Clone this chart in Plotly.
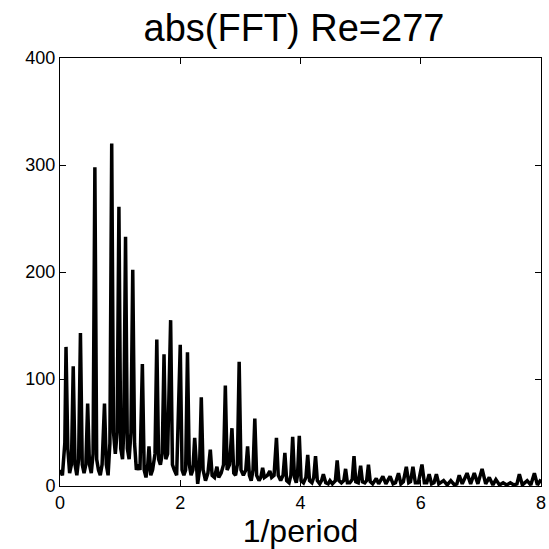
import plotly.graph_objects as go

freq = [0.00, 0.04, 0.08, 0.10, 0.13, 0.16, 0.19, 0.22, 0.25, 0.28, 0.31, 0.34, 0.37, 0.40, 0.43, 0.46, 0.49,
        0.52, 0.55, 0.58, 0.61, 0.64, 0.67, 0.70, 0.74, 0.77, 0.80, 0.83, 0.86, 0.89, 0.92, 0.95, 0.98,
        1.01, 1.04, 1.06, 1.09, 1.12, 1.15, 1.18, 1.21, 1.24, 1.27, 1.30, 1.33, 1.37, 1.40, 1.43, 1.46,
        1.48, 1.51, 1.54, 1.58, 1.61, 1.64, 1.67, 1.70, 1.73, 1.76, 1.79, 1.84, 1.87, 1.90, 1.94, 2.00,
        2.03, 2.06, 2.09, 2.12, 2.15, 2.18, 2.21, 2.24, 2.27, 2.29, 2.32, 2.35, 2.38, 2.42, 2.46, 2.50,
        2.53, 2.57, 2.61, 2.64, 2.68, 2.72, 2.75, 2.78, 2.82, 2.86, 2.89, 2.92, 2.95, 2.98, 3.01, 3.05,
        3.09, 3.12, 3.15, 3.18, 3.21, 3.24, 3.27, 3.31, 3.34, 3.37, 3.40, 3.45, 3.49, 3.52, 3.56, 3.60,
        3.63, 3.67, 3.71, 3.74, 3.77, 3.81, 3.84, 3.87, 3.90, 3.93, 3.95, 3.98, 4.01, 4.05, 4.09, 4.12,
        4.15, 4.19, 4.22, 4.25, 4.28, 4.32, 4.35, 4.38, 4.42, 4.46, 4.49, 4.53, 4.58, 4.61, 4.64, 4.68,
        4.72, 4.75, 4.78, 4.82, 4.86, 4.89, 4.92, 4.96, 5.00, 5.03, 5.07, 5.10, 5.13, 5.16, 5.20, 5.26,
        5.30, 5.37, 5.42, 5.49, 5.54, 5.58, 5.63, 5.67, 5.71, 5.76, 5.80, 5.83, 5.87, 5.91, 5.96, 6.02,
        6.06, 6.10, 6.14, 6.18, 6.22, 6.26, 6.30, 6.38, 6.44, 6.50, 6.56, 6.60, 6.64, 6.69, 6.77, 6.83,
        6.89, 6.95, 7.02, 7.08, 7.14, 7.20, 7.25, 7.31, 7.37, 7.43, 7.49, 7.55, 7.60, 7.64, 7.69, 7.77,
        7.83, 7.89, 7.94, 8.00]

amplitude = [15, 10, 40, 130, 35, 12, 20, 112, 20, 10, 25, 143, 20, 12, 20, 77, 20,
             12, 30, 298, 25, 15, 10, 20, 77, 20, 10, 40, 320, 50, 30, 50, 261,
             35, 25, 50, 233, 35, 25, 50, 202, 40, 15, 20, 15, 114, 15, 8, 20,
             37, 10, 15, 30, 137, 25, 20, 30, 123, 25, 30, 155, 20, 15, 10, 132,
             15, 10, 15, 125, 20, 10, 15, 45, 10, 2, 15, 83, 15, 5, 12, 34,
             10, 8, 18, 8, 12, 20, 94, 15, 20, 54, 12, 10, 20, 116, 15, 10,
             15, 37, 10, 5, 15, 63, 10, 5, 8, 17, 8, 10, 14, 8, 10, 45,
             10, 5, 10, 31, 5, 3, 10, 46, 8, 3, 10, 47, 5, 3, 8, 29,
             5, 3, 8, 28, 5, 2, 5, 11, 3, 2, 5, 2, 5, 24, 5, 3,
             5, 16, 3, 3, 6, 28, 4, 3, 19, 4, 3, 5, 20, 4, 2, 7,
             2, 9, 2, 9, 2, 3, 12, 2, 4, 18, 3, 4, 18, 3, 3, 20,
             3, 3, 11, 2, 3, 11, 2, 5, 1, 5, 1, 2, 10, 2, 12, 2,
             12, 2, 16, 2, 8, 1, 6, 1, 3, 1, 3, 1, 2, 11, 1, 5,
             1, 12, 1, 6]

x_ticks = [0, 2, 4, 6, 8]
y_ticks = [0, 100, 200, 300, 400]

fig = go.Figure()
fig.add_trace(go.Scatter(x=freq, y=amplitude, mode="lines",
                         line=dict(color="black", width=3.5), showlegend=False))

font_family = "Liberation Sans, Arial, Helvetica, sans-serif"
axis_common = dict(showgrid=False, zeroline=False, showline=True, linecolor="black",
                   linewidth=1, mirror="ticks", ticks="inside", ticklen=6,
                   tickcolor="black", automargin=False,
                   tickfont=dict(size=18, color="black", family=font_family))

fig.update_layout(
    width=549, height=549,
    margin=dict(l=60, r=8, t=58, b=63),
    paper_bgcolor="white", plot_bgcolor="white",
    title=dict(text="abs(FFT) Re=277", x=0.5355, xanchor="center", y=0.949, yanchor="middle",
               font=dict(size=38, color="black", family=font_family)),
    xaxis=dict(range=[0, 8], tickvals=x_ticks,
               title=dict(text="1/period", font=dict(size=32, color="black", family=font_family), standoff=4),
               **axis_common),
    yaxis=dict(range=[0, 400], tickvals=y_ticks, **axis_common),
)

fig.write_html("out.html",
               config={"displayModeBar": False},
               post_script="document.body.style.margin='0';document.body.style.overflow='hidden';")
